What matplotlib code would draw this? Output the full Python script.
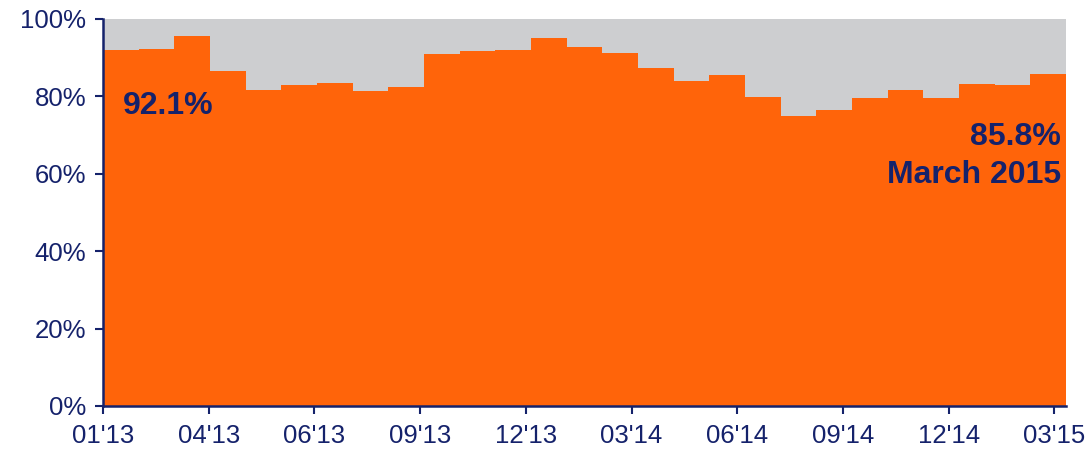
import matplotlib
matplotlib.use("Agg")
import matplotlib.pyplot as plt
import numpy as np

months = ["01'13","02'13","03'13","04'13","05'13","06'13","07'13","08'13","09'13",
          "10'13","11'13","12'13","01'14","02'14","03'14","04'14","05'14","06'14",
          "07'14","08'14","09'14","10'14","11'14","12'14","01'15","02'15","03'15"]
share = [92.1, 92.3, 95.5, 86.5, 81.7, 83.0, 83.4, 81.5, 82.5,
         90.9, 91.7, 92.1, 95.2, 92.7, 91.2, 87.3, 84.1, 85.4,
         79.8, 75.0, 76.4, 79.7, 81.7, 79.7, 83.3, 83.0, 85.8]
tick_labels = ["01'13", "04'13", "06'13", "09'13", "12'13",
               "03'14", "06'14", "09'14", "12'14", "03'15"]
first_label = "92.1%"
last_value_label = "85.8%"
last_date_label = "March 2015"

NAVY = "#15226B"
ORANGE = "#FF640A"
GREY = "#CDCED0"

plt.rcParams['font.family'] = ['Liberation Sans', 'DejaVu Sans']

fig = plt.figure(figsize=(10.9, 4.49), dpi=100)
ax = fig.add_axes([0.0945, 0.0958, 0.978 - 0.0945, 0.9577 - 0.0958])

n = len(share)
edges = np.arange(n + 1)
ax.stairs([100] * n, edges, fill=True, color=GREY, baseline=0, linewidth=0)
ax.stairs(share, edges, fill=True, color=ORANGE, baseline=0, linewidth=0)

ax.set_xlim(0, n)
ax.set_ylim(0, 100)

ax.set_yticks(np.arange(0, 101, 20))
ax.set_yticklabels([f"{v}%" for v in range(0, 101, 20)])
tick_step = 105.7 / (963.0 / n)
ax.set_xticks(np.arange(len(tick_labels)) * tick_step)
ax.set_xticklabels(tick_labels)

for s in ["top", "right"]:
    ax.spines[s].set_visible(False)
for s in ["left", "bottom"]:
    ax.spines[s].set_color(NAVY)
    ax.spines[s].set_linewidth(1.8)
ax.tick_params(axis="both", colors=NAVY, labelsize=18.5, length=6, width=1.5,
               direction="out")
ax.tick_params(axis="y", pad=6)
ax.tick_params(axis="x", pad=7)

ax.text(0.55, 75.5, first_label, color=NAVY, fontsize=23, fontweight="bold",
        ha="left", va="baseline")
ax.text(n - 0.15, 67.5, last_value_label, color=NAVY, fontsize=23,
        fontweight="bold", ha="right", va="baseline")
ax.text(n - 0.15, 57.6, last_date_label, color=NAVY, fontsize=23,
        fontweight="bold", ha="right", va="baseline")

fig.savefig("out.png", dpi=100)
